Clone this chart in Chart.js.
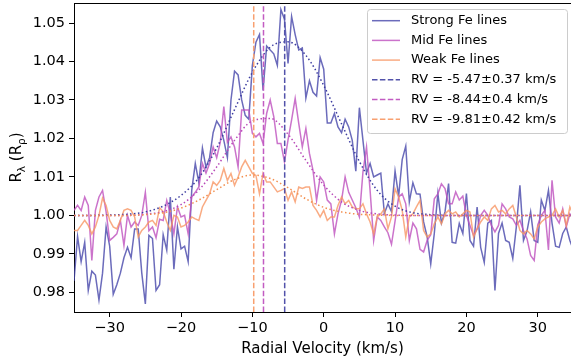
<!DOCTYPE html>
<html>
<head>
<meta charset="utf-8">
<script src="https://cdn.jsdelivr.net/npm/chart.js@4.4.0/dist/chart.umd.min.js"></script>
<style>
  html, body { margin: 0; padding: 0; background: #fff; overflow: hidden; }
  #wrap { width: 571px; height: 360px; }
</style>
</head>
<body>
<div id="wrap"><canvas id="rv-chart"></canvas></div>
<script>
// radial velocity grid (km/s)
const velocity = [
  -35,-34.5,-34,-33.5,-33,-32.5,-32,-31.5,-31,-30.5,
  -30,-29.5,-29,-28.5,-28,-27.5,-27,-26.5,-26,-25.5,
  -25,-24.5,-24,-23.5,-23,-22.5,-22,-21.5,-21,-20.5,
  -20,-19.5,-19,-18.5,-18,-17.5,-17,-16.5,-16,-15.5,
  -15,-14.5,-14,-13.5,-13,-12.5,-12,-11.5,-11,-10.5,
  -10,-9.5,-9,-8.5,-8,-7.5,-7,-6.5,-6,-5.5,
  -5,-4.5,-4,-3.5,-3,-2.5,-2,-1.5,-1,-0.5,
  0,0.5,1,1.5,2,2.5,3,3.5,4,4.5,
  5,5.5,6,6.5,7,7.5,8,8.5,9,9.5,
  10,10.5,11,11.5,12,12.5,13,13.5,14,14.5,
  15,15.5,16,16.5,17,17.5,18,18.5,19,19.5,
  20,20.5,21,21.5,22,22.5,23,23.5,24,24.5,
  25,25.5,26,26.5,27,27.5,28,28.5,29,29.5,
  30,30.5,31,31.5,32,32.5,33,33.5,34,34.5,
  35
];

const strongLines = [
  0.983,0.9945,0.988,0.993,0.9805,0.9855,0.9845,0.978,0.985,0.997,
  0.992,0.9795,0.982,0.985,0.989,0.9917,0.989,0.9965,0.9965,0.985,
  0.977,0.9948,0.994,0.9805,0.982,0.995,0.991,1.0048,0.986,0.997,
  0.9913,0.992,0.988,1.0065,1.0135,1.0085,1.0175,1.0125,1.015,1.0215,
  1.0245,1.023,1.0195,1.015,1.030,1.0375,1.0365,1.030,1.026,1.025,
  1.039,1.045,1.047,1.0325,1.044,1.043,1.042,1.039,1.0535,1.051,
  1.0395,1.0517,1.047,1.043,1.0435,1.0305,1.035,1.032,1.031,1.041,
  1.038,1.024,1.024,1.0265,1.023,1.0215,1.025,1.023,1.0195,1.0115,
  1.028,1.0195,1.011,1.0135,1.010,1.0105,1.011,1.0005,1.003,1.001,
  1.0115,1.005,1.0145,1.018,1.0035,1.0085,1.0056,1.0055,0.9983,0.9944,
  0.9874,0.9953,1.0057,0.998,1.0009,1.0083,0.993,0.9928,0.9979,0.9953,
  1.0057,0.9935,0.992,1.0022,0.9917,0.9878,0.998,0.9987,0.9805,0.9953,
  0.998,0.9935,0.993,0.9888,0.997,1.0078,0.9935,0.996,1.0009,0.9935,
  0.993,1.004,1.0013,1.0065,0.998,0.992,0.9917,0.9953,0.997,0.9935,
  0.991
];

const midLines = [
  1.0013,1.0026,1.0013,1.0048,1.0026,0.9883,1.0013,1.0048,1.0065,1.0009,
  0.9935,0.9943,0.9952,0.9987,0.9922,1.0,0.997,0.9983,0.9974,1.0,
  1.006,0.996,0.997,0.9942,0.999,0.9987,1.0039,1.0004,0.9952,1.0022,
  0.9996,1.0,0.9952,1.0048,1.006,1.0074,1.0135,1.011,1.0135,1.0178,
  1.015,1.019,1.0283,1.019,1.0204,1.0178,1.0126,1.0274,1.0274,1.0274,
  1.0213,1.0204,1.0213,1.0187,1.0265,1.030,1.0257,1.0187,1.0187,1.0139,
  1.0196,1.0248,1.0304,1.0239,1.0178,1.0226,1.0161,1.0117,1.0039,1.010,
  1.0087,1.004,1.003,0.9952,1.0004,1.0039,1.010,1.006,1.004,1.002,
  0.9996,1.0113,1.0178,1.0065,0.9935,0.9996,0.9987,0.997,0.9955,0.9925,
  0.9985,1.0048,1.0056,1.003,0.9935,0.998,0.9965,0.9912,0.9905,0.9935,
  0.995,1.0043,1.0056,1.0082,1.007,1.003,1.003,1.0061,1.004,1.005,
  1.0,0.9974,0.9948,0.9965,1.0,1.0013,1.0,0.9974,0.9957,0.9974,
  1.003,1.0017,0.9996,0.9991,0.9974,0.9987,0.9961,0.9939,0.9896,0.9883,
  0.9975,1.0,1.0013,0.991,1.0091,0.9996,0.998,1.0017,0.997,1.0004,
  0.999
];

const weakLines = [
  0.9961,0.9961,0.9974,0.9987,0.9974,0.9952,0.997,1.0,1.0045,1.0026,
  0.9987,0.997,0.9965,0.9987,1.0013,1.0017,1.0013,0.9996,0.9944,0.9961,
  0.997,0.9983,0.9987,0.9974,1.002,1.001,0.9983,0.9961,1.0,0.9996,
  0.997,0.9974,0.9983,0.9996,0.9991,0.9987,1.0022,1.0039,1.0056,1.0087,
  1.0078,1.0091,1.0122,1.0091,1.0109,1.0078,1.010,1.0126,1.0143,1.0126,
  1.0109,1.0104,1.0056,1.0109,1.0087,1.0087,1.0074,1.0061,1.0065,1.007,
  1.0039,1.0061,1.0035,1.0074,1.007,1.0074,1.0074,1.0026,1.0013,0.9996,
  1.0013,0.9987,0.9996,0.9996,1.0026,1.0048,1.003,1.0039,1.0022,1.0017,
  1.0017,1.003,1.0004,0.9983,0.9952,0.9996,1.0004,1.0017,0.9965,0.9996,
  1.0069,1.0048,1.0013,0.9944,0.9996,1.0004,1.0022,1.0039,0.9961,0.9944,
  0.9952,0.9978,0.9996,0.9978,1.0004,1.0013,1.0004,1.0009,0.9996,1.0004,
  1.0013,1.0009,0.9944,0.9965,0.9983,0.9996,0.9987,1.0017,1.0026,1.0009,
  1.0013,1.0004,1.0017,1.0026,0.9996,0.9961,0.9952,0.9961,0.9952,0.9939,
  0.997,0.9983,0.9991,0.9996,1.0,1.0017,0.9996,1.0013,0.9974,1.0022,
  1.0
];

// fitted profiles, read at coarser steps
const fitVelocity = [-35,-32.5,-30,-27.5,-25,-22.5,-20,-17.5,-15,-12.5,-10,-7.5,-5,-2.5,0,
  2.5,5,7.5,10,12.5,15,17.5,20,22.5,25,27.5,30,32.5,35];
const strongFit = [1.0,1.0,1.0001,1.0003,1.0009,1.0024,1.0052,1.0098,1.0175,1.0275,1.0372,1.0437,1.0451,1.0416,1.0338,
  1.0238,1.0140,1.0065,1.0024,1.0007,1.0002,1.0,1.0,1.0,1.0,1.0,1.0,1.0,1.0];
const midFit = [1.0,1.0,1.0,1.0,1.0003,1.001,1.0028,1.0066,1.0126,1.0195,1.0246,1.0252,1.0211,1.0143,1.0079,
  1.0035,1.0013,1.0004,1.0001,1.0,1.0,1.0,1.0,1.0,1.0,1.0,1.0,1.0,1.0];
const weakFit = [1.0,1.0,1.0,1.0,1.0002,1.0007,1.0019,1.004,1.0067,1.0093,1.0105,1.0096,1.0072,1.0043,1.0021,
  1.0009,1.0003,1.0001,1.0,1.0,1.0,1.0,1.0,1.0,1.0,1.0,1.0,1.0,1.0];

const rvValues = [-5.47, -8.44, -9.81];
const rvErrors = [0.37, 0.4, 0.42];

const xTicks = [-30, -20, -10, 0, 10, 20, 30];
const yTicks = [0.98, 0.99, 1.00, 1.01, 1.02, 1.03, 1.04, 1.05];
const xMin = -35, xMax = 34.66;
const yMin = 0.9749, yMax = 1.0552;

const FONT = "'DejaVu Sans', sans-serif";
const lineColors = ['rgba(70,70,170,0.8)', 'rgba(190,80,190,0.8)', 'rgba(247,150,100,0.8)'];
const fitColors = ['#3c3ca0', '#b848b8', '#f39050'];
const rvColors = ['#5252aa', '#c25cc2', '#f8a070'];

function pts(xs, ys) { return xs.map((v, i) => ({x: v, y: ys[i]})); }

const datasets = [
  {label: 'Strong Fe lines', data: pts(velocity, strongLines), borderColor: lineColors[0], inLegend: true, order: 9},
  {label: 'Mid Fe lines', data: pts(velocity, midLines), borderColor: lineColors[1], inLegend: true, order: 8},
  {label: 'Weak Fe lines', data: pts(velocity, weakLines), borderColor: lineColors[2], inLegend: true, order: 7},
  {label: 'fit strong', data: pts(fitVelocity, strongFit), borderColor: fitColors[0], borderDash: [1.5, 2.5], cubicInterpolationMode: 'monotone', order: 6},
  {label: 'fit mid', data: pts(fitVelocity, midFit), borderColor: fitColors[1], borderDash: [1.5, 2.5], cubicInterpolationMode: 'monotone', order: 5},
  {label: 'fit weak', data: pts(fitVelocity, weakFit), borderColor: fitColors[2], borderDash: [1.5, 2.5], cubicInterpolationMode: 'monotone', order: 4}
];
rvValues.forEach((rv, k) => {
  datasets.push({
    label: 'RV = ' + rv + '\u00b1' + rvErrors[k] + ' km/s',
    data: [{x: rv, y: yMin}, {x: rv, y: yMax}],
    borderColor: rvColors[k], borderDash: [5.5, 2.4], inLegend: true, order: 3 - k
  });
});
datasets.forEach(d => { d.borderWidth = 1.5; d.pointRadius = 0; d.fill = false; });

// top spine + legend box + y title with subscripts
const decor = {
  id: 'decor',
  afterDraw(chart) {
    const ctx = chart.ctx, a = chart.chartArea;
    ctx.save();
    ctx.strokeStyle = '#000';
    ctx.lineWidth = 1;
    ctx.beginPath();
    ctx.moveTo(a.left, a.top + 0.5);
    ctx.lineTo(a.right, a.top + 0.5);
    ctx.stroke();

    // legend
    const items = chart.data.datasets.filter(d => d.inLegend);
    const w = 200, h = 124, x0 = a.right - w - 4, y0 = a.top + 6;
    ctx.fillStyle = 'rgba(255,255,255,0.8)';
    ctx.strokeStyle = '#cccccc';
    ctx.beginPath();
    ctx.roundRect(x0 + 0.5, y0 + 0.5, w, h, 3);
    ctx.fill();
    ctx.stroke();
    ctx.font = '13px ' + FONT;
    ctx.textBaseline = 'middle';
    items.forEach((d, i) => {
      const y = y0 + 11.7 + i * 19.7;
      ctx.strokeStyle = d.borderColor;
      ctx.lineWidth = 1.5;
      ctx.setLineDash(d.borderDash || []);
      ctx.beginPath();
      ctx.moveTo(x0 + 5, y);
      ctx.lineTo(x0 + 33, y);
      ctx.stroke();
      ctx.setLineDash([]);
      ctx.fillStyle = '#000';
      ctx.fillText(d.label, x0 + 44, y);
    });

    // y axis title: R_lambda (R_rho)
    const parts = [['R', 15, 0], ['\u03bb', 10.5, 3.5], [' (R', 15, 0], ['\u03c1', 10.5, 3.5], [')', 15, 0]];
    let total = 0;
    parts.forEach(p => { ctx.font = p[1] + 'px ' + FONT; p.push(ctx.measureText(p[0]).width); total += p[3]; });
    ctx.translate(21, (a.top + a.bottom) / 2);
    ctx.rotate(-Math.PI / 2);
    ctx.textBaseline = 'alphabetic';
    ctx.fillStyle = '#000';
    let cx = -total / 2;
    parts.forEach(p => {
      ctx.font = p[1] + 'px ' + FONT;
      ctx.fillText(p[0], cx, p[2]);
      cx += p[3];
    });
    ctx.restore();
  }
};

new Chart(document.getElementById('rv-chart'), {
  type: 'line',
  data: {datasets: datasets},
  options: {
    responsive: true,
    maintainAspectRatio: false,
    animation: false,
    devicePixelRatio: 1,
    layout: {padding: {top: 3, left: 0, right: 0, bottom: 0}},
    plugins: {legend: {display: false}, tooltip: {enabled: false}},
    elements: {line: {tension: 0}},
    scales: {
      x: {
        type: 'linear', min: xMin, max: xMax,
        afterBuildTicks: s => { s.ticks = xTicks.map(v => ({value: v})); },
        afterFit: s => { s.height = 48; s.paddingLeft = 0; s.paddingRight = 0; },
        grid: {display: true, drawOnChartArea: false, drawTicks: true, tickLength: 5, color: '#000', lineWidth: 1},
        border: {display: true, color: '#000', width: 1},
        ticks: {color: '#000', padding: 3, maxRotation: 0, font: {family: FONT, size: 14.5},
          callback: v => String(v).replace('-', '\u2212')},
        title: {display: true, text: 'Radial Velocity (km/s)', color: '#000',
          font: {family: FONT, size: 15}, padding: {top: 0, bottom: 2}}
      },
      y: {
        type: 'linear', min: yMin, max: yMax,
        afterBuildTicks: s => { s.ticks = yTicks.map(v => ({value: v})); },
        afterFit: s => { s.width = 74; s.paddingTop = 0; s.paddingBottom = 0; },
        grid: {display: true, drawOnChartArea: false, drawTicks: true, tickLength: 5, color: '#000', lineWidth: 1},
        border: {display: true, color: '#000', width: 1},
        ticks: {color: '#000', padding: 4, font: {family: FONT, size: 14.5},
          callback: v => v.toFixed(2)}
      }
    }
  },
  plugins: [decor]
});
</script>
</body>
</html>
